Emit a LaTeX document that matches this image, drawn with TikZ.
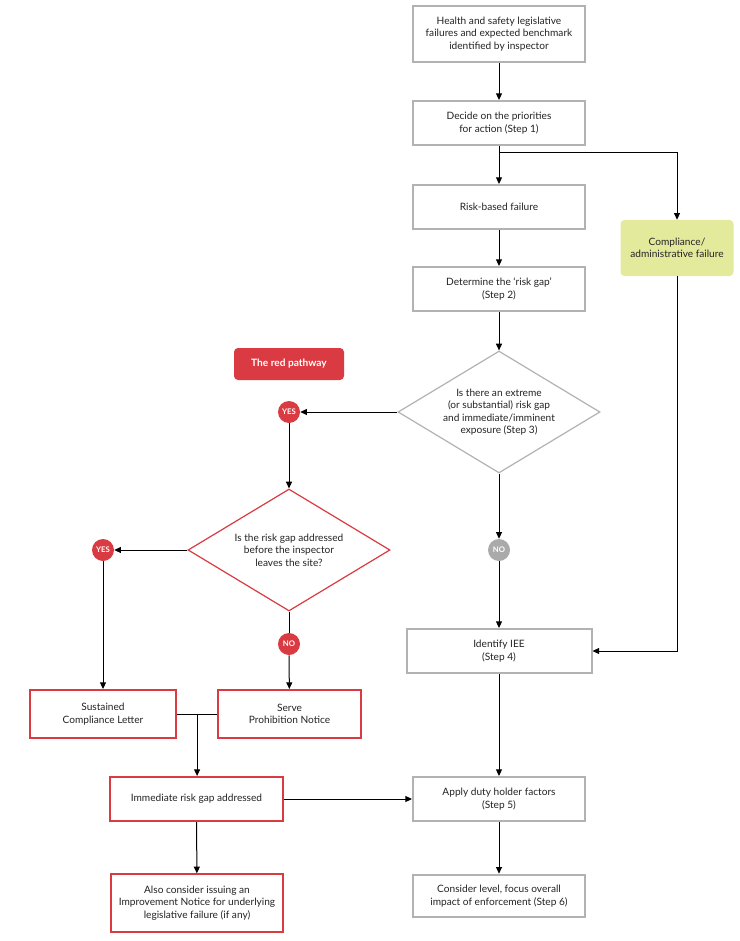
\documentclass[tikz,border=0pt]{standalone}
\usepackage{fontspec}
\setmainfont{Lato}
\usepackage{tikz}
\usetikzlibrary{arrows.meta,calc}
\usetikzlibrary{shapes.geometric}
\definecolor{boxgray}{RGB}{178,178,178}
\definecolor{txtgray}{RGB}{35,35,35}
\definecolor{redpath}{RGB}{218,58,65}
\definecolor{compgreen}{RGB}{228,234,156}
\definecolor{nogray}{RGB}{170,170,170}
\tikzset{
  every node/.style={font=\fontsize{7.6}{9.3}\selectfont, text=txtgray, align=center},
  graybox/.style={draw=boxgray, line width=1.5pt, fill=white, minimum width=129pt, minimum height=33pt, inner sep=2pt},
  redbox/.style={draw=redpath, line width=1.5pt, fill=white, minimum height=36pt, inner sep=2pt},
  question/.style={shape=diamond, aspect=1.66, line width=0.9pt, fill=white, minimum width=151.5pt, minimum height=91.5pt, inner sep=0pt},
  answer/.style={circle, fill=redpath, minimum size=16.5pt, inner sep=0pt, text=white, font=\fontsize{5.8}{6}\selectfont\bfseries},
  flow/.style={line width=0.75pt, -{Triangle[length=5pt,width=4.5pt]}},
  plain/.style={line width=0.75pt}
}
\begin{document}
\begin{tikzpicture}[x=0.75pt,y=0.75pt,yscale=-1,xscale=1]
        \useasboundingbox (0,0) rectangle (739,941);
        
        %Shape: Rectangle [id:hs]
        \node [graybox, minimum height=42pt] (hs) at (499,34) {Health and safety legislative\\failures and expected benchmark\\identified by inspector};
        %Shape: Rectangle [id:prio]
        \node [graybox] (prio) at (499,123) {Decide on the priorities\\for action (Step 1)};
        %Shape: Rectangle [id:risk]
        \node [graybox] (risk) at (499,207) {Risk-based failure};
        %Shape: Rectangle [id:comp]
        \node [fill=compgreen, rounded corners=3pt, minimum width=84.75pt, minimum height=42pt, inner sep=2pt] (comp) at (677,248) {Compliance/\\administrative failure};
        %Shape: Rectangle [id:gap]
        \node [graybox] (gap) at (499,289) {Determine the `risk gap'\\(Step 2)};
        %Shape: Rectangle [id:redpath]
        \node [fill=redpath, rounded corners=3pt, minimum width=82.5pt, minimum height=24pt, text=white, font=\fontsize{7.6}{9.3}\selectfont\bfseries] (red) at (289,364) {The red pathway};
        
        %Shape: Diamond [id:q3]
        \node [question, draw=boxgray] (q3) at (499,412) {Is there an extreme\\(or substantial) risk gap\\and immediate/imminent\\exposure (Step 3)};
        %Shape: Circle [id:yes1]
        \node [answer] (yes1) at (289,412) {YES};
        %Shape: Diamond [id:q2]
        \node [question, draw=redpath] (q2) at (289,550) {Is the risk gap addressed\\before the inspector\\leaves the site?};
        %Shape: Circle [id:yes2]
        \node [answer] (yes2) at (103,550) {YES};
        %Shape: Circle [id:no2]
        \node [answer] (no2) at (289,644) {NO};
        %Shape: Circle [id:no1]
        \node [answer, fill=nogray] (no1) at (499,550) {NO};
        
        %Shape: Rectangle [id:iee]
        \node [graybox, minimum width=138.75pt] (iee) at (499,651) {Identify IEE\\(Step 4)};
        %Shape: Rectangle [id:scl]
        \node [redbox, minimum width=109.5pt] (scl) at (103,714) {Sustained\\Compliance Letter};
        %Shape: Rectangle [id:serve]
        \node [redbox, minimum width=107pt] (serve) at (289.5,714) {Serve\\Prohibition Notice};
        %Shape: Rectangle [id:imm]
        \node [redbox, minimum width=130pt, minimum height=33pt] (imm) at (196.5,799) {Immediate risk gap addressed};
        %Shape: Rectangle [id:duty]
        \node [graybox] (duty) at (499,799) {Apply duty holder factors\\(Step 5)};
        %Shape: Rectangle [id:also]
        \node [redbox, minimum width=129pt, minimum height=43pt] (also) at (197,903) {Also consider issuing an\\Improvement Notice for underlying\\legislative failure (if any)};
        %Shape: Rectangle [id:level]
        \node [graybox, minimum height=32pt] (level) at (499,896) {Consider level, focus overall\\impact of enforcement (Step 6)};
        
        %Straight Lines
        \coordinate (split) at ($(prio.south)+(0,7)$);
        \coordinate (join) at ($(scl.east)!0.5!(serve.west)$);
        \draw [flow] (hs) -- (prio);
        \draw [flow] (prio) -- (risk);
        \draw [flow] (split) -| (comp);
        \draw [flow] (risk) -- (gap);
        \draw [flow] (gap) -- (q3);
        \draw [flow] (q3) -- (yes1);
        \draw [flow] (yes1) -- (q2);
        \draw [flow] (q2) -- (yes2);
        \draw [plain] (q2) -- (no2);
        \draw [flow] (q3) -- (no1);
        \draw [flow] (no1) -- (iee);
        \draw [flow] (comp) |- (iee);
        \draw [flow] (yes2) -- (scl);
        \draw [flow] (no2) -- (serve);
        \draw [plain] (scl) -- (serve);
        \draw [flow] (join) -- (join |- imm.north);
        \draw [flow] (imm) -- (duty);
        \draw [flow] (iee) -- (duty);
        \draw [flow] (imm) -- (also);
        \draw [flow] (duty) -- (level);
        
\end{tikzpicture}
\end{document}
